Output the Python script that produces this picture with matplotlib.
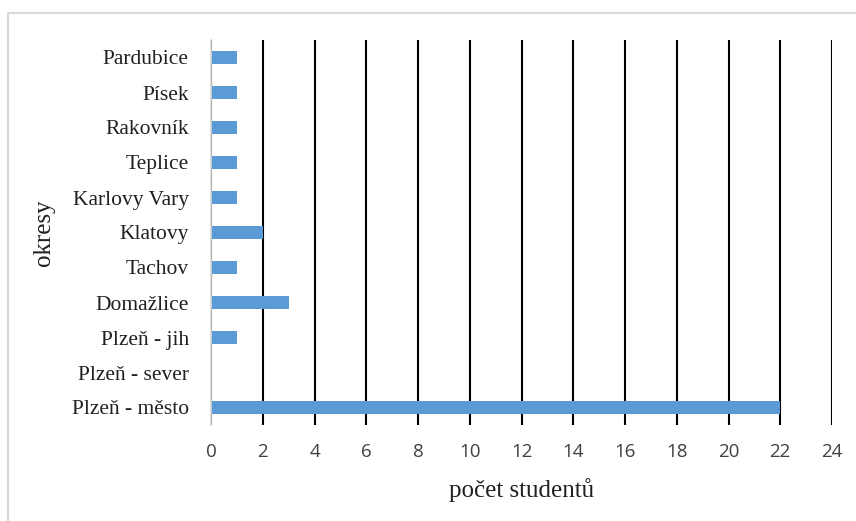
import matplotlib
matplotlib.use("Agg")
import matplotlib.pyplot as plt
from matplotlib.patches import Rectangle

districts = ["Pardubice", "Písek", "Rakovník", "Teplice", "Karlovy Vary", "Klatovy",
             "Tachov", "Domažlice", "Plzeň - jih", "Plzeň - sever", "Plzeň - město"]
students = [1, 1, 1, 1, 1, 2, 1, 3, 1, 0, 22]
xticks = list(range(0, 25, 2))

W, H = 856, 521
fig = plt.figure(figsize=(W / 100, H / 100), dpi=100)
fig.patch.set_facecolor("white")

# light frame around the chart area
fig.patches.append(Rectangle((8 / W, -0.05), 1.2, 1 - 13 / H + 0.05,
                             transform=fig.transFigure, fill=False,
                             edgecolor="#D9D9D9", linewidth=1.5))

ax = fig.add_axes([211 / W, 1 - 425 / H, (832 - 211) / W, (425 - 40) / H])

ypos = list(range(len(districts)))[::-1]
ax.barh(ypos, students, height=0.35, color="#5B9BD5", zorder=3)

ax.set_xlim(0, 24)
ax.set_ylim(-0.5, len(districts) - 0.5)
ax.set_xticks(xticks)
ax.set_xticklabels([str(v) for v in xticks], family="Open Sans", fontsize=13.5, color="#404040")
ax.set_yticks(ypos)
ax.set_yticklabels(districts, family="Liberation Serif", fontsize=15.5, color="#202020")

ax.tick_params(axis="x", length=0, pad=13)
ax.tick_params(axis="y", length=0, pad=16)

ax.grid(axis="x", color="black", linewidth=1.5, zorder=1)
for s in ["top", "right", "bottom"]:
    ax.spines[s].set_visible(False)
ax.spines["left"].set_color("#D9D9D9")
ax.spines["left"].set_linewidth(1.2)
ax.spines["left"].set_zorder(4)

ax.set_xlabel("počet studentů", family="Liberation Serif", fontsize=18, color="#202020")
ax.set_ylabel("okresy", family="Liberation Serif", fontsize=18, color="#202020")
ax.yaxis.set_label_coords((44 - 211) / (832 - 211), 0.5)
ax.xaxis.set_label_coords(0.5, -(490 - 425) / (425 - 40))
ax.yaxis.label.set_verticalalignment("center")
ax.xaxis.label.set_verticalalignment("center")

fig.savefig("out.png", dpi=100)
